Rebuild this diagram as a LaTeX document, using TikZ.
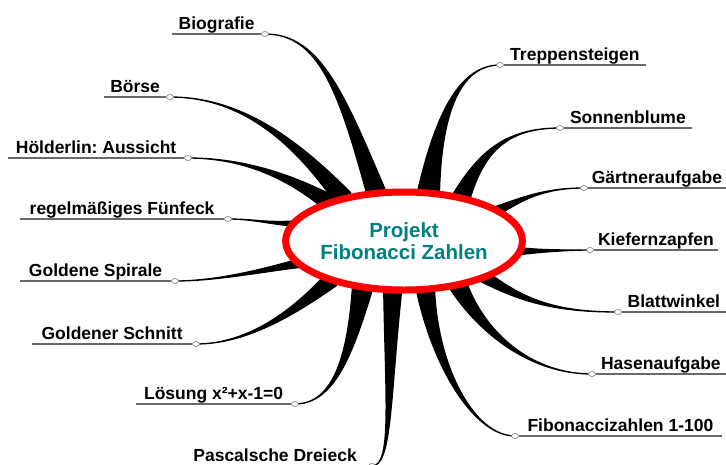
\documentclass[tikz,border=0pt]{standalone}
\usepackage{fontspec}
\setmainfont{Liberation Sans}
\usetikzlibrary{calc,shapes.geometric}
\pgfdeclarelayer{background}
\pgfsetlayers{background,main}
\definecolor{hubred}{RGB}{255,0,0}
\definecolor{hubteal}{RGB}{0,128,128}
\definecolor{rulegray}{RGB}{105,105,105}
\definecolor{dotgray}{RGB}{120,120,120}
\frenchspacing

% tapered branch: #1 base, #2 half-width vector at the base,
% #3 control vector from the base, #4 control vector from the end, #5 end node
\newcommand{\twig}[5]{%
  \filldraw[branch] ($(#1)+(#2)$)
    .. controls ($(#1)+(#3)+0.25*(#2)$) and ($(#5.center)+(#4)$) .. (#5.center)
    .. controls ($(#5.center)+(#4)$) and ($(#1)+(#3)-0.25*(#2)$) .. ($(#1)-(#2)$) -- cycle;}

\tikzset{
  hub/.style={ellipse, draw=hubred, line width=7pt, fill=white,
    minimum width=235pt, minimum height=98pt, inner sep=0pt, outer sep=0pt,
    align=center, text=hubteal, font=\bfseries\fontsize{20.5}{22.5}\selectfont},
  branch/.style={fill=black, draw=black, line width=1.3pt, line join=round},
  dot/.style={ellipse, draw=dotgray, fill=white, line width=0.6pt,
    minimum width=7pt, minimum height=5pt, inner sep=0pt},
  uline/.style={draw=rulegray, line width=1.8pt},
  lbl/.style={midway, anchor=base, yshift=5pt, inner sep=0pt,
    font=\bfseries\fontsize{17.5}{20}\selectfont, text=black}
}

\begin{document}
\begin{tikzpicture}[x=1pt,y=-1pt]
\path[use as bounding box] (0,0) rectangle (726,464);
\clip (0,0) rectangle (726,464);

% central topic
\node[hub] (hub) at (404,241) {Projekt\\Fibonacci Zahlen};

% branch roots on the ellipse
\coordinate (b1) at (hub.120);
\coordinate (b2) at (hub.145);
\coordinate (b3) at (hub.153);
\coordinate (b4) at (hub.171);
\coordinate (b5) at (hub.192);
\coordinate (b6) at (hub.208);
\coordinate (b7) at (hub.228);
\coordinate (b8) at (hub.257);
\coordinate (b9) at (hub.63);
\coordinate (b10) at (hub.37);
\coordinate (b11) at (hub.18);
\coordinate (b12) at (hub.355);
\coordinate (b13) at (hub.336);
\coordinate (b14) at (hub.321);
\coordinate (b15) at (hub.294);

% end points of the branches
\node[dot] (d1) at (265,34) {};
\node[dot] (d2) at (170,97) {};
\node[dot] (d3) at (188,158) {};
\node[dot] (d4) at (228,219) {};
\node[dot] (d5) at (175,281) {};
\node[dot] (d6) at (196,344) {};
\node[dot] (d7) at (295,404) {};
\node[dot] (d8) at (372,466) {};
\node[dot] (d9) at (500,65) {};
\node[dot] (d10) at (560,128) {};
\node[dot] (d11) at (584,188) {};
\node[dot] (d12) at (590,250) {};
\node[dot] (d13) at (618,312) {};
\node[dot] (d14) at (592,374) {};
\node[dot] (d15) at (515,436) {};

% outer ends of the underlines
\coordinate (e1) at (172,34);
\coordinate (e2) at (104,97);
\coordinate (e3) at (8,158);
\coordinate (e4) at (20,219);
\coordinate (e5) at (20,281);
\coordinate (e6) at (32,344);
\coordinate (e7) at (136,404);
\coordinate (e8) at (182,466);
\coordinate (e9) at (646,65);
\coordinate (e10) at (692,128);
\coordinate (e11) at (726,188);
\coordinate (e12) at (718,250);
\coordinate (e13) at (726,312);
\coordinate (e14) at (726,374);
\coordinate (e15) at (722,436);

% labels on their underlines
\draw[uline] (e1) -- node[lbl] {Biografie} (d1.west);
\draw[uline] (e2) -- node[lbl] {Börse} (d2.west);
\draw[uline] (e3) -- node[lbl] {Hölderlin: Aussicht} (d3.west);
\draw[uline] (e4) -- node[lbl] {regelmäßiges Fünfeck} (d4.west);
\draw[uline] (e5) -- node[lbl] {Goldene Spirale} (d5.west);
\draw[uline] (e6) -- node[lbl] {Goldener Schnitt} (d6.west);
\draw[uline] (e7) -- node[lbl] {Lösung x²+x-1=0} (d7.west);
\draw[uline] (e8) -- node[lbl] {Pascalsche Dreieck} (d8.west);
\draw[uline] (d9.east) -- node[lbl] {Treppensteigen} (e9);
\draw[uline] (d10.east) -- node[lbl] {Sonnenblume} (e10);
\draw[uline] (d11.east) -- node[lbl] {Gärtneraufgabe} (e11);
\draw[uline] (d12.east) -- node[lbl] {Kiefernzapfen} (e12);
\draw[uline] (d13.east) -- node[lbl] {Blattwinkel} (e13);
\draw[uline] (d14.east) -- node[lbl] {Hasenaufgabe} (e14);
\draw[uline] (d15.east) -- node[lbl] {Fibonaccizahlen 1-100} (e15);

% tapered branches behind the ellipse
\begin{pgfonlayer}{background}
\twig{b1}{9,-3}{-35,-100}{55,0}{d1}
\twig{b2}{7,-6}{-50,-60}{70,0}{d2}
\twig{b3}{4,-7}{-45,-30}{50,0}{d3}
\twig{b4}{0,2.5}{-25,0}{25,0}{d4}
\twig{b5}{1,4}{-40,8}{40,0}{d5}
\twig{b6}{5,6}{-40,35}{50,0}{d6}
\twig{b7}{10,2}{-12,65}{40,0}{d7}
\twig{b8}{9,0}{-5,110}{20,0}{d8}
\twig{b9}{11,1}{10,-80}{-40,0}{d9}
\twig{b10}{8,4}{20,-45}{-55,0}{d10}
\twig{b11}{2,4}{25,-12}{-40,0}{d11}
\twig{b12}{0,3.5}{20,0}{-20,0}{d12}
\twig{b13}{3,-5}{40,25}{-60,0}{d13}
\twig{b14}{8,-4}{25,50}{-60,0}{d14}
\twig{b15}{9,-1}{10,80}{-40,0}{d15}
\end{pgfonlayer}
\end{tikzpicture}
\end{document}
